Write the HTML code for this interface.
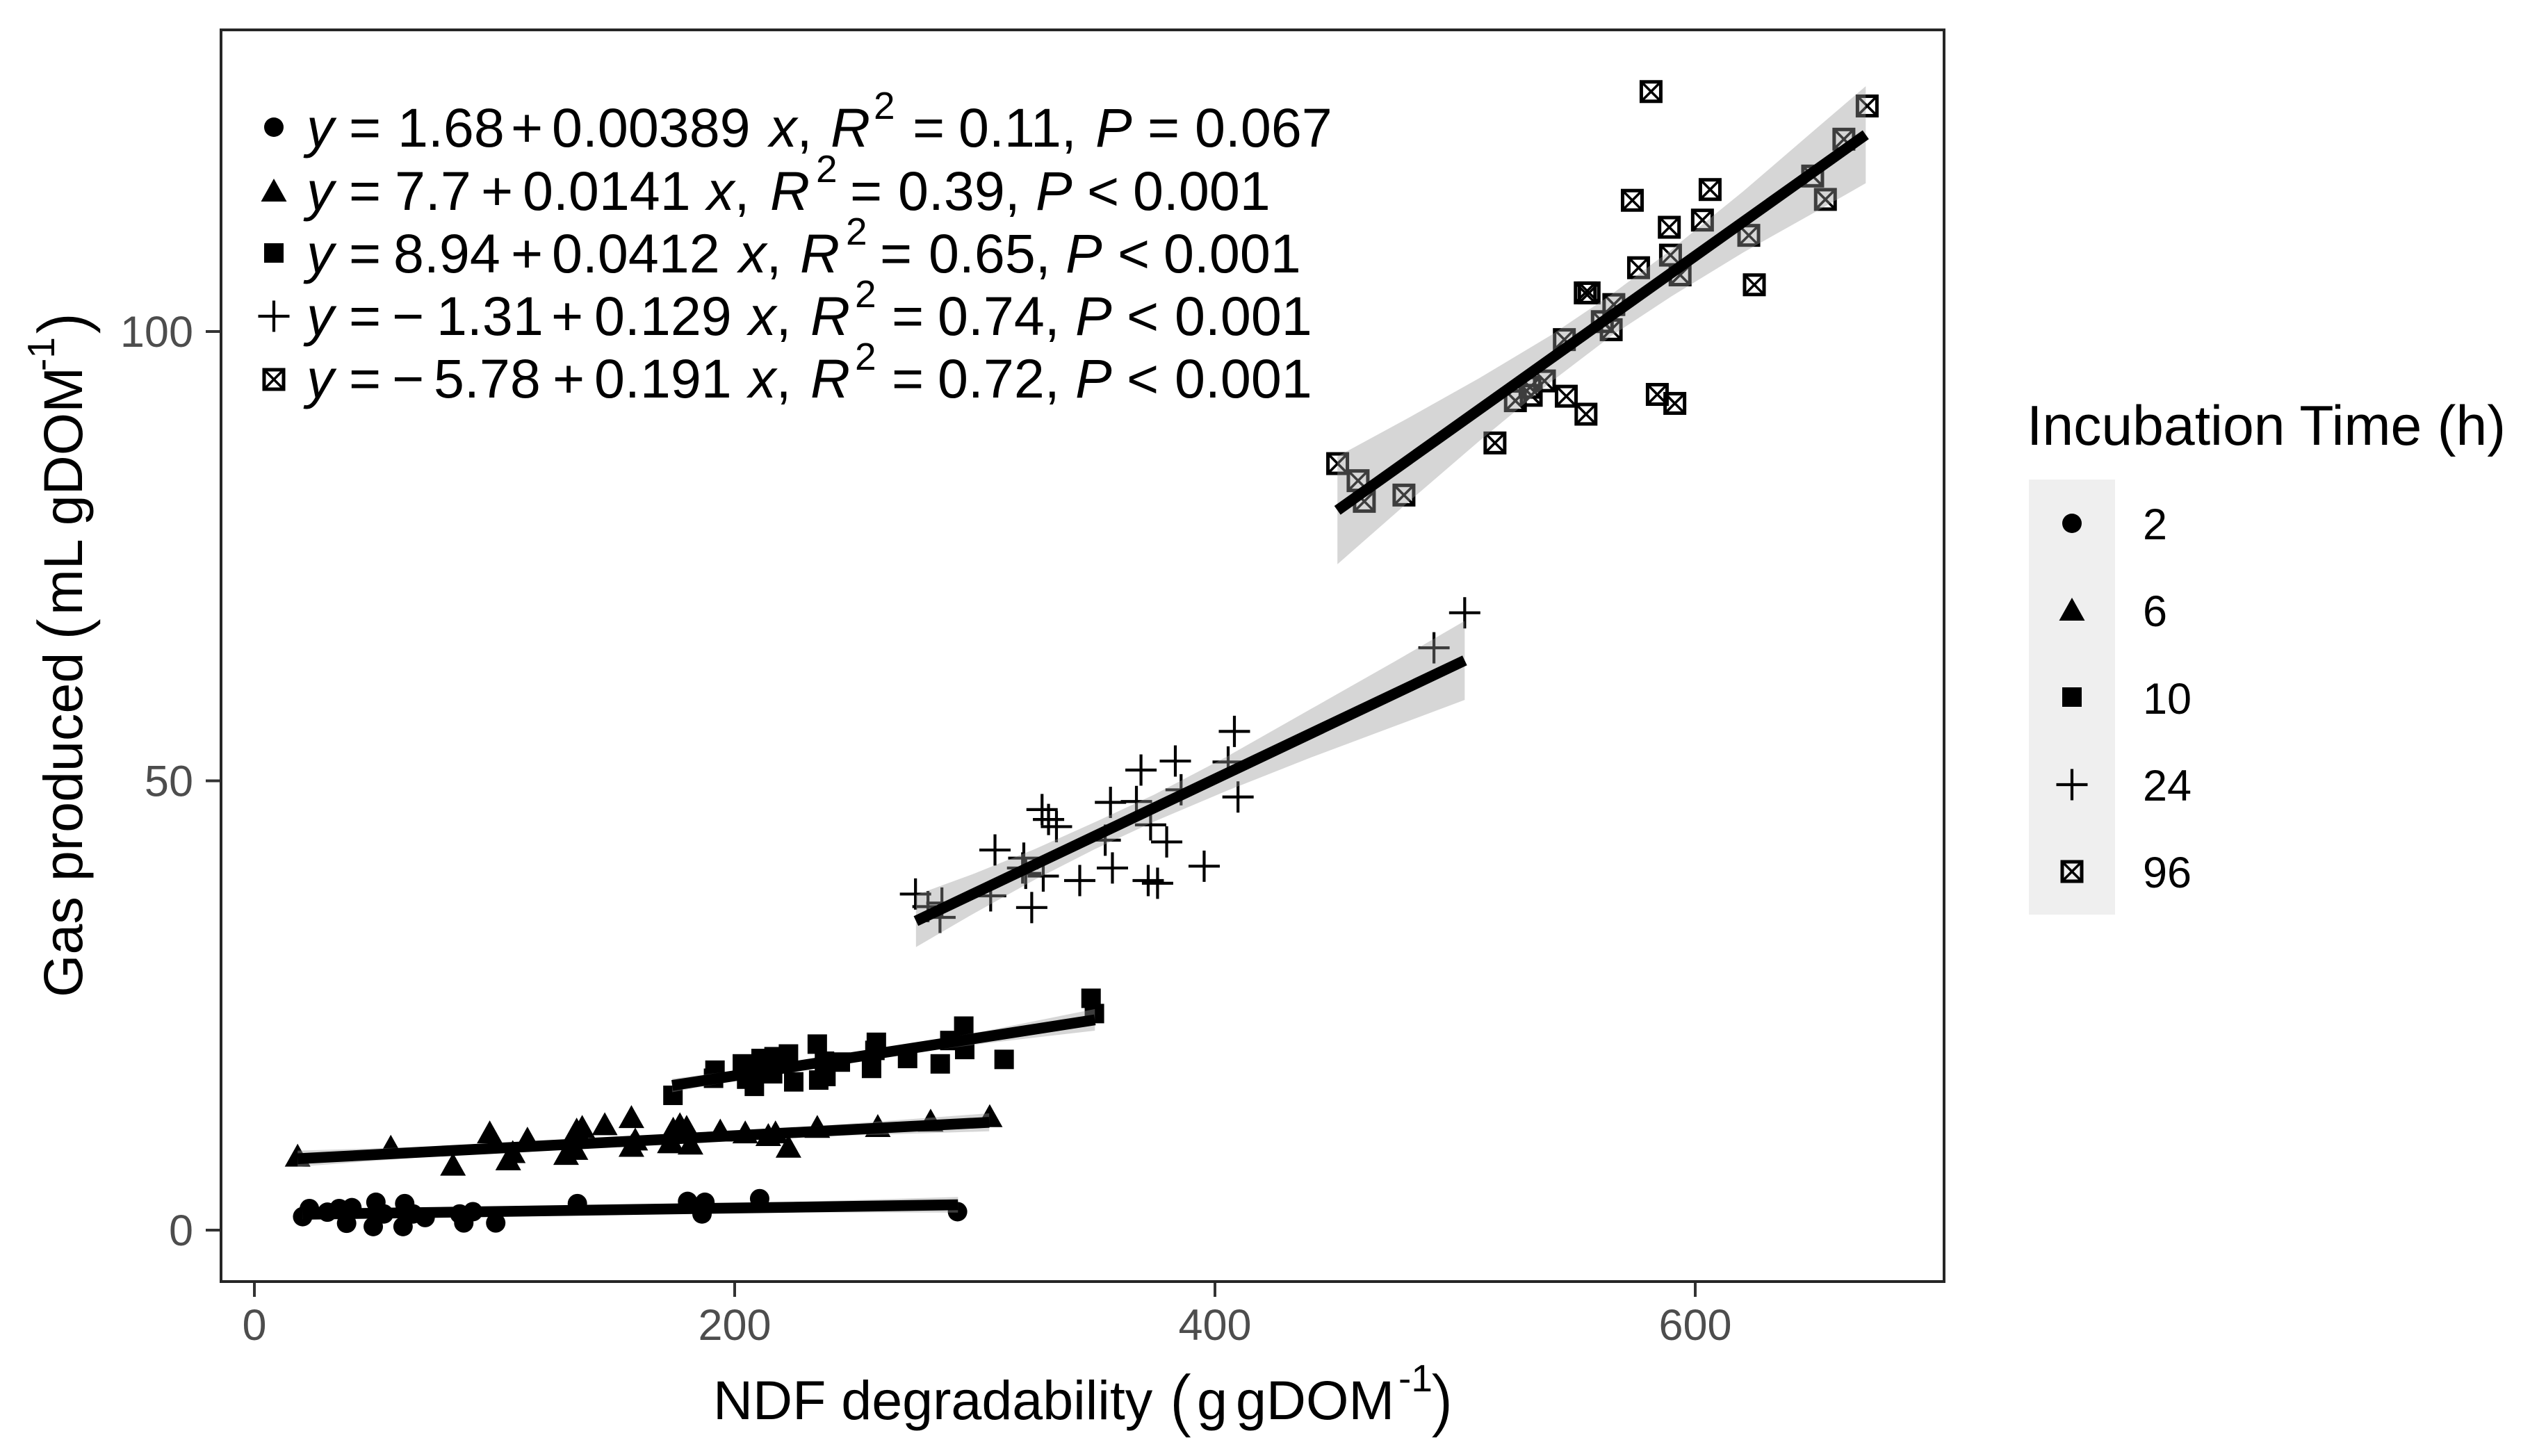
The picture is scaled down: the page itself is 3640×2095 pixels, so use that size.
<!DOCTYPE html>
<html lang="en">
<head>
<meta charset="utf-8">
<title>Gas produced vs NDF degradability</title>
<style>
html,body{margin:0;padding:0;background:#fff;width:3640px;height:2095px;overflow:hidden}
svg{display:block}
text{font-family:"Liberation Sans",Arial,sans-serif;fill:#000}
.tick{fill:#4d4d4d;font-size:63px}
.ann{font-size:79px}
.ann .i{font-style:italic}
.sup{font-size:55px}
.paren{font-size:100px;stroke:#fff;stroke-width:1.6px}
</style>
</head>
<body>
<svg id="chart" xmlns="http://www.w3.org/2000/svg" width="3640" height="2095" viewBox="0 0 3640 2095">
  <rect x="318" y="43" width="2479" height="1801" fill="#fff"/>
  <g id="marks"></g>
  <rect x="318" y="43" width="2479" height="1801" fill="none" stroke="#262626" stroke-width="4"/>
  <g id="axes"></g>

  <text y="2042" font-size="79">
    <tspan x="1026">NDF degradability</tspan>
    <tspan class="paren" x="1682" y="2048">(</tspan>
    <tspan x="1722" y="2042">g</tspan>
    <tspan x="1778">gDOM</tspan>
    <tspan x="2012" y="2002" font-size="55">-1</tspan>
    <tspan class="paren" x="2058" y="2048">)</tspan>
  </text>

  <text transform="translate(118,0) rotate(-90)" y="0" font-size="79">
    <tspan x="-1435">Gas produced</tspan>
    <tspan class="paren" x="-922" y="6">(</tspan>
    <tspan x="-885" y="0">mL gDOM</tspan>
    <tspan x="-534" y="-40" font-size="55">-1</tspan>
    <tspan class="paren" x="-482" y="6">)</tspan>
  </text>

  <g class="ann">
    <text y="211"><tspan class="i" x="441">y</tspan><tspan x="502">=</tspan><tspan x="572">1.68</tspan><tspan x="735">+</tspan><tspan x="794">0.00389</tspan><tspan class="i" x="1107">x</tspan><tspan>,</tspan><tspan class="i" x="1195">R</tspan><tspan class="sup" x="1257" y="171">2</tspan><tspan x="1313" y="211">=</tspan><tspan x="1379">0.11,</tspan><tspan class="i" x="1576">P</tspan><tspan x="1651">=</tspan><tspan x="1719">0.067</tspan></text>
    <text y="302"><tspan class="i" x="441">y</tspan><tspan x="502">=</tspan><tspan x="568">7.7</tspan><tspan x="692">+</tspan><tspan x="752">0.0141</tspan><tspan class="i" x="1017">x</tspan><tspan>,</tspan><tspan class="i" x="1108">R</tspan><tspan class="sup" x="1174" y="262">2</tspan><tspan x="1223" y="302">=</tspan><tspan x="1292">0.39,</tspan><tspan class="i" x="1490">P</tspan><tspan x="1564">&lt;</tspan><tspan x="1630">0.001</tspan></text>
    <text y="392"><tspan class="i" x="441">y</tspan><tspan x="502">=</tspan><tspan x="566">8.94</tspan><tspan x="735">+</tspan><tspan x="794">0.0412</tspan><tspan class="i" x="1063">x</tspan><tspan>,</tspan><tspan class="i" x="1151">R</tspan><tspan class="sup" x="1217" y="352">2</tspan><tspan x="1266" y="392">=</tspan><tspan x="1336">0.65,</tspan><tspan class="i" x="1533">P</tspan><tspan x="1608">&lt;</tspan><tspan x="1674">0.001</tspan></text>
    <text y="482"><tspan class="i" x="441">y</tspan><tspan x="502">=</tspan><tspan x="564">−</tspan><tspan x="628">1.31</tspan><tspan x="793">+</tspan><tspan x="855">0.129</tspan><tspan class="i" x="1077">x</tspan><tspan>,</tspan><tspan class="i" x="1166">R</tspan><tspan class="sup" x="1230" y="442">2</tspan><tspan x="1283" y="482">=</tspan><tspan x="1349">0.74,</tspan><tspan class="i" x="1547">P</tspan><tspan x="1621">&lt;</tspan><tspan x="1690">0.001</tspan></text>
    <text y="572"><tspan class="i" x="441">y</tspan><tspan x="502">=</tspan><tspan x="564">−</tspan><tspan x="624">5.78</tspan><tspan x="795">+</tspan><tspan x="855">0.191</tspan><tspan class="i" x="1077">x</tspan><tspan>,</tspan><tspan class="i" x="1166">R</tspan><tspan class="sup" x="1230" y="532">2</tspan><tspan x="1283" y="572">=</tspan><tspan x="1349">0.72,</tspan><tspan class="i" x="1547">P</tspan><tspan x="1621">&lt;</tspan><tspan x="1690">0.001</tspan></text>
  </g>
  <g id="eq-icons"></g>

  <g>
    <text x="2916" y="640" font-size="80.5">Incubation Time (h)</text>
    <rect x="2919" y="690" width="124" height="626" fill="#efefef"/>
    <g id="legend-icons"></g>
    <text x="3083" y="776" font-size="63">2</text>
    <text x="3083" y="901" font-size="63">6</text>
    <text x="3083" y="1027" font-size="63">10</text>
    <text x="3083" y="1152" font-size="63">24</text>
    <text x="3083" y="1277" font-size="63">96</text>
  </g>
</svg>
<script>
// Axis tick values
const xTicks = [0, 200, 400, 600];
const yTicks = [0, 50, 100];

// 2 h incubation
const x2 = [20.1,22.9,30.4,35.3,40.6,38.4,50.6,49.5,53.9,62.6,61.9,66.1,71.1,85.5,91.0,87.2,100.5,134.5,180.4,187.6,186.4,210.4,292.8];
const y2 = [1.5,2.4,2.0,2.4,2.5,0.76,3.1,0.4,1.8,2.95,0.4,1.8,1.4,1.8,2.05,0.8,0.8,2.95,3.2,3.1,1.8,3.5,2.05];
const fitX2 = [20,293];
const fitY2 = [1.76,2.82];
const bandX2 = [20,100,180,293];
const bandLow2 = [1.2,1.72,1.98,1.95];
const bandHigh2 = [2.32,2.42,2.78,3.69];

// 6 h incubation
const x6 = [18,56.8,98,82.7,113.7,107.6,105.7,134.2,136.5,145.9,157,158.6,157,129.8,133.7,173,174.4,177.2,180,181.6,173.8,194,204.4,214,217,222.4,234.4,259.6,281.6,306.2];
const y6 = [8.3,9.3,10.9,7.3,10.2,8.7,7.9,11.2,11.5,11.8,12.6,10.1,9.4,8.5,9.06,9.8,11.3,11.8,11.5,9.65,9.8,11.1,10.9,10.6,10.9,9.3,11.5,11.6,12.2,12.7];
const fitX6 = [18,306];
const fitY6 = [7.95,12.0];
const bandX6 = [18,80,150,220,306];
const bandLow6 = [7.05,8.32,9.41,10.3,11.0];
const bandHigh6 = [8.85,9.32,10.21,11.3,13.0];

// 10 h incubation
const x10 = [174.3,191.8,191.2,203.2,205,208.2,211,216.4,215.8,222.4,224.6,234.4,235,238,237.4,244,259,258.4,257,272,285.6,289.6,295.4,295.8,312.2,348.4,349.8];
const y10 = [15,17.8,16.9,18.5,16.8,16,19.1,19.3,17.4,19.6,16.5,20.7,16.7,17.1,18.8,18.7,20.9,20,18,19.1,18.5,21.1,22.7,20.1,19,25.8,24.1];
const fitX10 = [174,350];
const fitY10 = [16.1,23.4];
const bandX10 = [174,215,260,305,350];
const bandLow10 = [15.35,17.35,19.25,20.8,22.2];
const bandHigh10 = [16.85,18.25,20.05,22.2,24.6];

// 24 h incubation
const x24 = [504,491.2,408.1,383.5,369.2,405.5,385.9,409.6,356.5,367.3,328,330.7,334,373.2,354.3,379.9,308.4,320.4,319.9,395.5,357.3,328.5,321.2,343.7,372.2,376.1,275.3,306.6,280.5,286.3,323.7,285.5];
const y24 = [68.7,64.8,55.5,52.2,51.2,52.1,49,48.2,47.6,47.7,46.8,45.7,44.9,45.1,43.4,43.2,42.3,41.4,40.3,40.5,40.3,39.4,39.7,38.9,38.9,38.6,37.4,37.2,36,36.4,35.9,34.8];
const fitX24 = [275.5,504];
const fitY24 = [34.4,63.4];
const bandX24 = [275.5,300,325,350,375,405,440,475,504];
const bandLow24 = [31.5,35.3,39,42.4,45.5,48.9,52.6,56.1,59];
const bandHigh24 = [37.3,39.7,42.4,45.4,48.5,52.7,58,63.3,67.8];

// 96 h incubation
const x96 = [581.6,671.6,661.9,648.9,654.2,606.2,573.8,603,589.2,622.3,589.7,576.4,593.7,624.6,554.2,555.8,566.1,561.3,565,545.5,537.2,525.1,531.7,531.2,546.3,554.5,584.2,591.5,516.6,451.1,459.6,462.2,478.7];
const y96 = [126.7,125.1,121.4,117.3,114.7,115.8,114.6,112.4,111.6,110.7,108.5,107.1,106.3,105.2,104.3,104.3,103,101.1,100.2,99.1,94.5,92.3,92.9,93.8,92.8,90.8,93,92,87.6,85.3,83.4,81.1,81.8];
const fitX96 = [451,671];
const fitY96 = [80.1,121.9];
const bandX96 = [451,480,510,540,565,590,620,650,671];
const bandLow96 = [74.1,80.9,87.8,94.4,99.5,103.9,108.8,113.3,116.5];
const bandHigh96 = [86.1,90.3,94.8,99.6,104.1,109.1,115.6,122.5,127.3];

// Axis functions
function xs(v){ return 366 + 3.455 * v; }
function ys(v){ return 1770 - 12.93 * v; }

const NS = 'http://www.w3.org/2000/svg';
function mk(tag, attrs, parent){
  const el = document.createElementNS(NS, tag);
  for (const k in attrs) el.setAttribute(k, attrs[k]);
  parent.appendChild(el);
  return el;
}
function marker(kind, cx, cy, parent, name){
  const g = mk('g', {transform: 'translate(' + cx + ',' + cy + ')'}, parent);
  
  
  if (kind === 'circle') {
    mk('circle', {cx: 0, cy: 0, r: 14, fill: '#000'}, g);
  } else if (kind === 'triangle') {
    mk('polygon', {points: '0,-17 18.5,16 -18.5,16', fill: '#000'}, g);
  } else if (kind === 'square') {
    mk('rect', {x: -14, y: -14, width: 28, height: 28, fill: '#000'}, g);
  } else if (kind === 'plus') {
    mk('path', {d: 'M-22.5,0H22.5M0,-22.5V22.5', stroke: '#000', 'stroke-width': 4.2, fill: 'none'}, g);
  } else {
    mk('rect', {x: -14, y: -14, width: 28, height: 28, fill: 'none', stroke: '#000', 'stroke-width': 5}, g);
    mk('path', {d: 'M-13,-13L13,13M13,-13L-13,13', stroke: '#000', 'stroke-width': 3.6, fill: 'none'}, g);
  }
}

const marksG = document.getElementById('marks');
function drawSeries(label, kind, xv, yv, fx, fy, bx, bl, bh){
  const g = mk('g', {}, marksG);
  
  
  xv.forEach(function(v, i){
    marker(kind, xs(v), ys(yv[i]), g, 'point-' + label);
  });
  let pts = [];
  bx.forEach(function(v, i){ pts.push(xs(v) + ',' + ys(bh[i])); });
  for (let i = bx.length - 1; i >= 0; i--) pts.push(xs(bx[i]) + ',' + ys(bl[i]));
  const band = mk('polygon', {points: pts.join(' '), fill: '#999999', 'fill-opacity': 0.4}, g);
  
  
  const line = mk('line', {x1: xs(fx[0]), y1: ys(fy[0]), x2: xs(fx[1]), y2: ys(fy[1]), stroke: '#000', 'stroke-width': 15.5}, g);
  
  
}
drawSeries('2h', 'circle', x2, y2, fitX2, fitY2, bandX2, bandLow2, bandHigh2);
drawSeries('6h', 'triangle', x6, y6, fitX6, fitY6, bandX6, bandLow6, bandHigh6);
drawSeries('10h', 'square', x10, y10, fitX10, fitY10, bandX10, bandLow10, bandHigh10);
drawSeries('24h', 'plus', x24, y24, fitX24, fitY24, bandX24, bandLow24, bandHigh24);
drawSeries('96h', 'boxx', x96, y96, fitX96, fitY96, bandX96, bandLow96, bandHigh96);

const axesG = document.getElementById('axes');
xTicks.forEach(function(t){
  const tick = mk('line', {x1: xs(t), x2: xs(t), y1: 1846, y2: 1866, stroke: '#333', 'stroke-width': 4}, axesG);
  
  
  const lab = mk('text', {x: xs(t), y: 1928, 'text-anchor': 'middle', class: 'tick'}, axesG);
  
  
  lab.textContent = String(t);
});
yTicks.forEach(function(t){
  const tick = mk('line', {x1: 296, x2: 316, y1: ys(t), y2: ys(t), stroke: '#333', 'stroke-width': 4}, axesG);
  
  
  const lab = mk('text', {x: 278, y: ys(t) + 22, 'text-anchor': 'end', class: 'tick'}, axesG);
  
  
  lab.textContent = String(t);
});

const kinds = ['circle', 'triangle', 'square', 'plus', 'boxx'];
const eqRows = [183, 274, 364, 455, 546];
const legendRows = [753, 877, 1003, 1129, 1254];
const eqG = document.getElementById('eq-icons');
const legG = document.getElementById('legend-icons');
kinds.forEach(function(k, i){
  marker(k, 394, eqRows[i], eqG, 'equation-symbol-' + k);
  marker(k, 2981, legendRows[i], legG, 'legend-symbol-' + k);
});
</script>
</body>
</html>
